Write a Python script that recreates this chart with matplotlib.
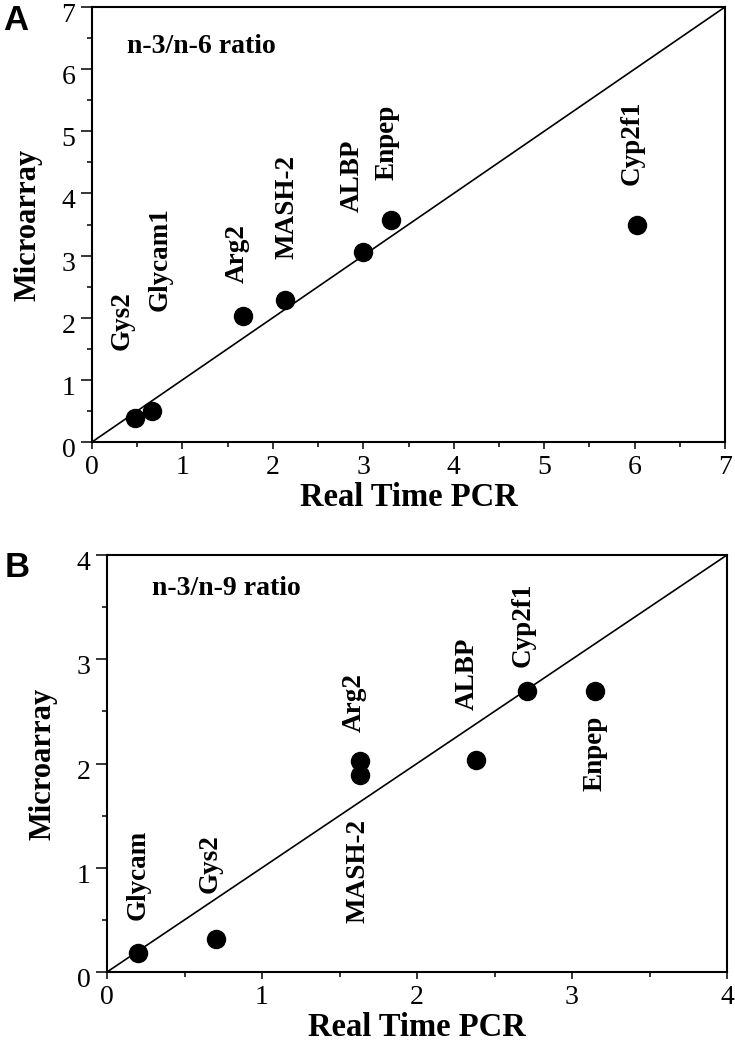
import matplotlib
matplotlib.use("Agg")
import matplotlib.pyplot as plt
import matplotlib.transforms as mtransforms
from matplotlib.ticker import MultipleLocator

plt.rcParams['font.family'] = ['Liberation Serif', 'DejaVu Serif']

# ---- datos panel A (n-3/n-6) ----
genes_a = ['Gys2', 'Glycam1', 'Arg2', 'MASH-2', 'ALBP', 'Enpep', 'Cyp2f1']
pcr_a = [0.47, 0.66, 1.67, 2.13, 3.00, 3.31, 6.03]
micro_a = [0.38, 0.50, 2.02, 2.28, 3.05, 3.57, 3.49]
# desplazamiento de etiquetas (puntos) y alineacion vertical
offs_a = [(-9, 49, 'bottom'), (6, 72, 'bottom'), (-4, 24, 'bottom'), (2, 30, 'bottom'),
          (-8, 29, 'bottom'), (-3, 29, 'bottom'), (-4, 29, 'bottom')]

# ---- datos panel B (n-3/n-9) ----
genes_b = ['Glycam', 'Gys2', 'Arg2', 'MASH-2', 'ALBP', 'Cyp2f1', 'Enpep']
pcr_b = [0.20, 0.70, 1.63, 1.63, 2.38, 2.71, 3.15]
micro_b = [0.18, 0.32, 2.02, 1.89, 2.03, 2.70, 2.70]
offs_b = [(0, 24, 'bottom'), (-4, 33, 'bottom'), (-4, 21, 'bottom'), (-1, -32, 'top'),
          (-6, 36, 'bottom'), (-3, 17, 'bottom'), (0, -18, 'top')]

LIM_A = 7
LIM_B = 4


def panel(fig, ax, x, y, genes, offs, lim, ratio_txt, ratio_pos):
    ax.plot([0, lim], [0, lim], color='black', lw=1.2, zorder=2)
    ax.plot(x, y, 'o', color='black', ms=13, zorder=3)
    for g, xi, yi, (dx, dy, va) in zip(genes, x, y, offs):
        ax.annotate(g, (xi, yi), xytext=(dx, dy), textcoords='offset points',
                    rotation=90, ha='center', va=va, fontsize=19.5, fontweight='bold')
    ax.text(ratio_pos[0], ratio_pos[1], ratio_txt, fontsize=20, fontweight='bold',
            ha='left', va='center')
    ax.set_xlim(0, lim)
    ax.set_ylim(0, lim)
    ax.xaxis.set_major_locator(MultipleLocator(1))
    ax.yaxis.set_major_locator(MultipleLocator(1))
    ax.xaxis.set_minor_locator(MultipleLocator(0.5))
    ax.yaxis.set_minor_locator(MultipleLocator(0.5))
    ax.tick_params(axis='both', which='both', direction='out', width=1.1, labelsize=20)
    ax.tick_params(axis='y', which='major', length=8, pad=4)
    ax.tick_params(axis='x', which='major', length=5, pad=4)
    ax.tick_params(axis='both', which='minor', length=3.6)
    # etiquetas del eje y un poco por debajo de la marca, como en el original
    shift = mtransforms.ScaledTranslation(0, -4 / 72, fig.dpi_scale_trans)
    for lbl in ax.get_yticklabels():
        lbl.set_transform(lbl.get_transform() + shift)
    for s in ax.spines.values():
        s.set_linewidth(1.5)
    ax.set_xlabel('Real Time PCR', fontsize=23.5, fontweight='bold', labelpad=2)
    ax.set_ylabel('Microarray', fontsize=22, fontweight='bold', labelpad=14)


fig = plt.figure(figsize=(7.35, 10.5), dpi=100)
ax_a = fig.add_axes([92 / 735, 1 - 442 / 1050, 633 / 735, 435 / 1050])
ax_b = fig.add_axes([107 / 735, 1 - 972 / 1050, 620 / 735, 417 / 1050])

panel(fig, ax_a, pcr_a, micro_a, genes_a, offs_a, LIM_A, 'n-3/n-6 ratio', (0.39, 6.36))
panel(fig, ax_b, pcr_b, micro_b, genes_b, offs_b, LIM_B, 'n-3/n-9 ratio', (0.29, 3.68))

fig.text(3 / 735, 1 - 4 / 1050, 'A', fontsize=25, fontweight='bold',
         family='Liberation Sans', ha='left', va='top')
fig.text(5 / 735, 1 - 551 / 1050, 'B', fontsize=25, fontweight='bold',
         family='Liberation Sans', ha='left', va='top')

fig.savefig('out.png', dpi=100, facecolor='white')
